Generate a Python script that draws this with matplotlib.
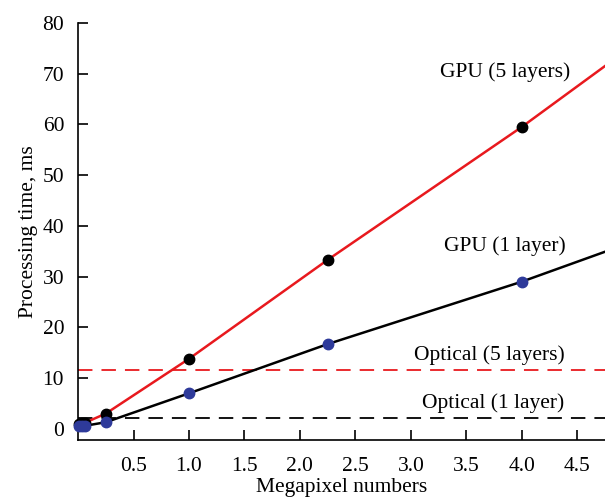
import matplotlib.pyplot as plt

# Data
megapixels = [0.01, 0.04, 0.0625, 0.25, 1.0, 2.25, 4.0]
gpu5_ms = [1.0, 1.1, 1.2, 3.0, 13.8, 33.3, 59.5]
gpu1_ms = [0.5, 0.55, 0.6, 1.3, 7.0, 16.7, 29.0]

# line continuation to the right edge
x_end = 4.75
gpu5_end = 71.5
gpu1_end = 34.9

optical5_ms = 11.6
optical1_ms = 2.2

plt.rcParams['font.family'] = ['Liberation Serif', 'DejaVu Serif']
plt.rcParams['font.size'] = 15.5

fig = plt.figure(figsize=(6.05, 4.98), dpi=100)
ax = fig.add_axes([0.129, 0.1165, 0.871, 0.8375])

blue = '#2e3a9a'

ax.plot(megapixels + [x_end], gpu5_ms + [gpu5_end], color='#e8191e', lw=1.8, zorder=2)
ax.plot(megapixels + [x_end], gpu1_ms + [gpu1_end], color='black', lw=1.8, zorder=2)

ax.axhline(optical5_ms, color='#e8191e', lw=1.3, dashes=(8, 5), zorder=1)
ax.axhline(optical1_ms, color='black', lw=1.3, dashes=(8, 5), zorder=1)

ax.plot(megapixels, gpu5_ms, 'o', color='black', ms=7.5, clip_on=False, zorder=3)
ax.plot(megapixels, gpu1_ms, 'o', color=blue, ms=7.5, clip_on=False, zorder=4)

ax.text(3.85, 70.3, 'GPU (5 layers)', ha='center', va='center')
ax.text(3.85, 36.0, 'GPU (1 layer)', ha='center', va='center')
ax.text(3.71, 14.6, 'Optical (5 layers)', ha='center', va='center')
ax.text(3.74, 5.0, 'Optical (1 layer)', ha='center', va='center')

ax.set_xlim(0, x_end)
ax.set_ylim(-2.2, 80)
ax.set_xticks([0.5, 1.0, 1.5, 2.0, 2.5, 3.0, 3.5, 4.0, 4.5])
ax.set_xticklabels(['0.5', '1.0', '1.5', '2.0', '2.5', '3.0', '3.5', '4.0', '4.5'])
ax.set_yticks(range(0, 81, 10))

ax.spines['top'].set_visible(False)
ax.spines['right'].set_visible(False)
ax.tick_params(direction='in', length=7, width=1.2)
ax.tick_params(axis='x', pad=12)
ax.tick_params(axis='y', pad=10)
ax.spines['left'].set_linewidth(1.2)
ax.spines['bottom'].set_linewidth(1.2)

ax.set_xlabel('Megapixel numbers', labelpad=2)
ax.set_ylabel('Processing time, ms', labelpad=3)

fig.savefig('out.png', dpi=100, facecolor='white')
